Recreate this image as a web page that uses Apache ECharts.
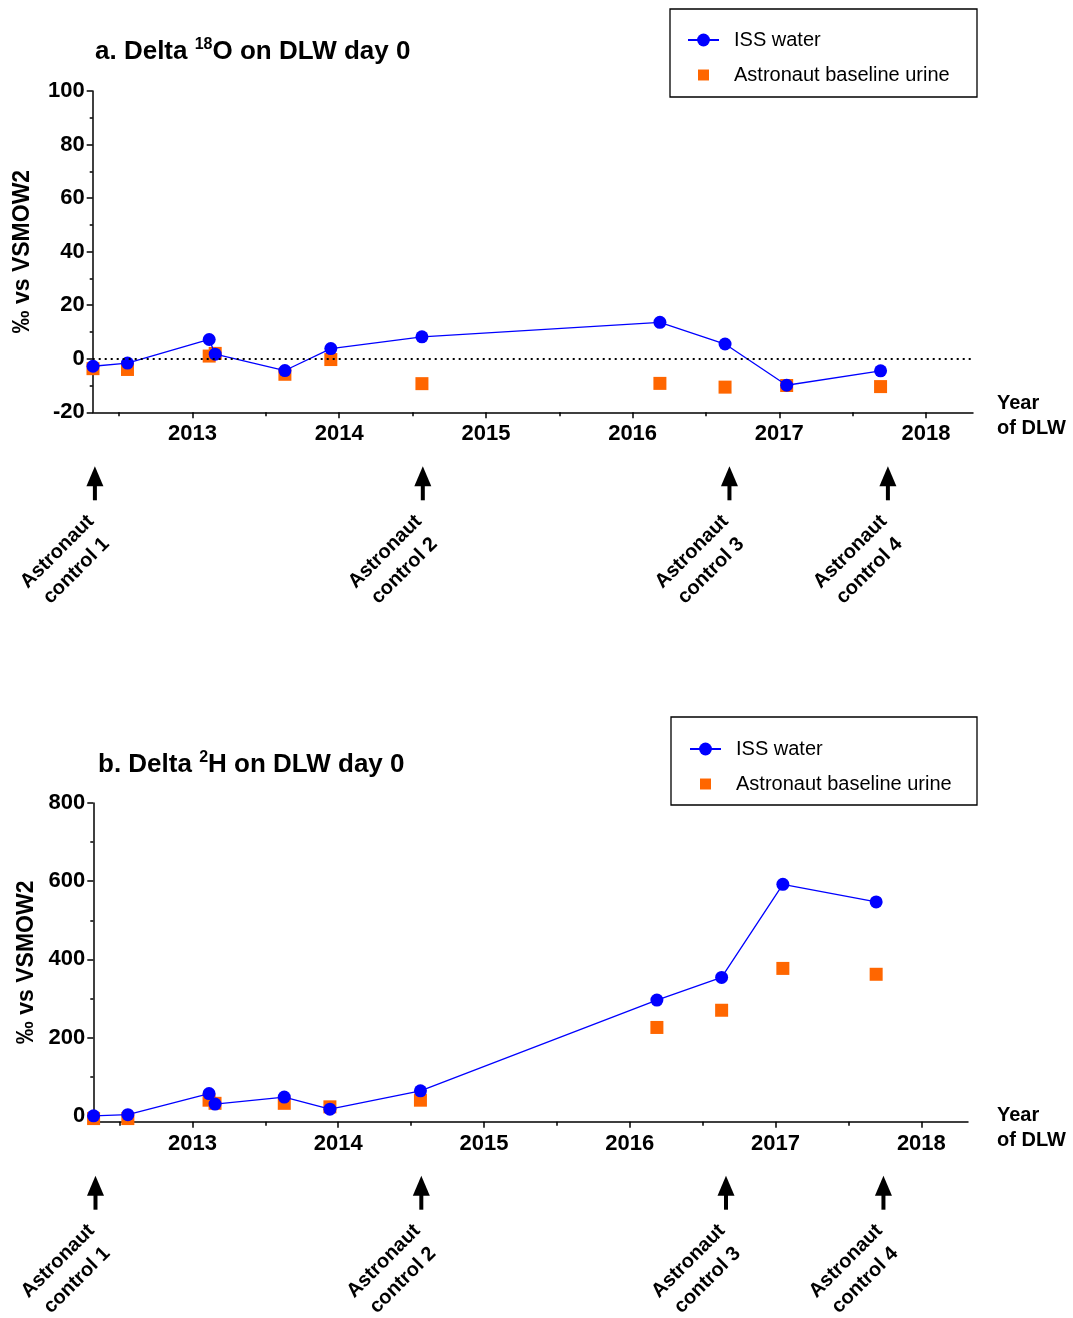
<!DOCTYPE html>
<html><head><meta charset="utf-8">
<script src="https://cdn.jsdelivr.net/npm/echarts@6/dist/echarts.min.js"></script>
<style>html,body{margin:0;padding:0;background:#fff}#c{width:1073px;height:1318px}</style>
</head><body><div id="c"></div>
<script>
// ---- data ----
const sampleDates = [2012.322, 2012.557, 2013.114, 2013.155, 2013.63, 2013.943, 2014.564, 2016.186, 2016.63, 2017.05, 2017.69];
const issO18   = [-2.8, -1.6, 7.2, 1.7, -4.4, 3.8, 8.2, 13.6, 5.5, -9.9, -4.5];
const urineO18 = [-3.7, -4.0, 1.0, 2.0, -5.8, -0.3, -9.3, -9.2, -10.6, -10.0, -10.4];
const issH2    = [0, 3, 57, 30, 48, 17, 64, 296, 354, 592, 547];
const urineH2  = [-7, -7, 40, 32, 32, 23, 40, 226, 270, 377, 362];
const controlYears  = [2012.335, 2014.57, 2016.66, 2017.74];
const controlLabels = ['Astronaut\ncontrol 1', 'Astronaut\ncontrol 2', 'Astronaut\ncontrol 3', 'Astronaut\ncontrol 4'];
const yearTicks     = [2013, 2014, 2015, 2016, 2017, 2018];
const halfYearTicks = [2012.5, 2013.5, 2014.5, 2015.5, 2016.5, 2017.5];
const h2Ticks       = [0, 200, 400, 600, 800];
const h2MinorTicks  = [100, 300, 500, 700];
const seriesNames   = ['ISS water', 'Astronaut baseline urine'];

const FONT = "'Liberation Sans', Arial, Helvetica, sans-serif";
const X_MIN = 2012.32, X_MAX = 2018.32;
const O18_MIN = -20, O18_MAX = 100;
const H2_MIN = -15, H2_MAX = 800;
const BLUE = '#0000ff', ORANGE = '#ff6600';

const pairs = (xs, ys) => xs.map((x, i) => [x, ys[i]]);
const plain = v => String(Math.round(v));

function majorX(grid, gap, spacer) {
  return {
    type: 'value', gridIndex: grid, min: X_MIN, max: X_MAX, position: 'bottom',
    axisLine: { show: true, onZero: false, lineStyle: { color: '#000', width: 1.5 } },
    axisTick: { show: true, customValues: yearTicks, length: 6, lineStyle: { color: '#000', width: 1.5 } },
    axisLabel: { customValues: yearTicks, formatter: plain, fontSize: 22, fontWeight: 'bold', color: '#000', fontFamily: FONT, margin: 11 },
    splitLine: { show: false },
    name: '{sp| }\n{t|Year}\n{t|of DLW}', nameLocation: 'end', nameGap: gap,
    nameTextStyle: { align: 'left', verticalAlign: 'middle',
      rich: {
        sp: { fontSize: 4, lineHeight: spacer },
        t: { fontSize: 20, fontWeight: 'bold', color: '#000', fontFamily: FONT, lineHeight: 25 }
      } }
  };
}
function minorX(grid) {
  return {
    type: 'value', gridIndex: grid, min: X_MIN, max: X_MAX, position: 'bottom', offset: 0,
    axisLine: { show: false, onZero: false },
    axisTick: { show: true, customValues: halfYearTicks, length: 4, lineStyle: { color: '#000', width: 1.5 } },
    axisLabel: { show: false }, splitLine: { show: false }
  };
}
const yName = { fontSize: 23, fontWeight: 'bold', color: '#000', fontFamily: FONT };
const yLabel = { fontSize: 22, fontWeight: 'bold', color: '#000', fontFamily: FONT, margin: 8 };

function arrowSeries(xi, yi, yMin) {
  return {
    type: 'custom', xAxisIndex: xi, yAxisIndex: yi, clip: false, silent: true, z: 5,
    data: controlYears.map((yr, i) => [yr, i]),
    encode: { x: 0 },
    renderItem: function (params, api) {
      const p = api.coord([api.value(0), yMin]);
      const x = p[0], axisY = p[1];
      const tip = axisY + 54, base = tip + 20, bottom = tip + 34;
      const idx = params.dataIndex;
      return {
        type: 'group',
        children: [
          { type: 'polygon', shape: { points: [[x, tip], [x - 8.5, base], [x + 8.5, base]] }, style: { fill: '#000' } },
          { type: 'rect', shape: { x: x - 2, y: base - 1, width: 4, height: bottom - base + 1 }, style: { fill: '#000' } },
          { type: 'text', x: x - 28, y: bottom + 61, rotation: Math.PI / 4,
            style: { text: controlLabels[idx], fontSize: 20, fontWeight: 'bold', fontFamily: FONT, fill: '#000',
                     align: 'center', verticalAlign: 'middle', lineHeight: 27 } }
        ]
      };
    }
  };
}

function urineSeries(xi, yi, vals) {
  return {
    name: seriesNames[1], type: 'scatter', xAxisIndex: xi, yAxisIndex: yi, clip: false,
    symbol: 'rect', symbolSize: 13, itemStyle: { color: ORANGE, opacity: 1 }, z: 2,
    emphasis: { disabled: true },
    data: pairs(sampleDates, vals)
  };
}
function issSeries(xi, yi, vals, extra) {
  return Object.assign({
    name: seriesNames[0], type: 'line', xAxisIndex: xi, yAxisIndex: yi, clip: false,
    symbol: 'circle', symbolSize: 13, showSymbol: true,
    lineStyle: { color: BLUE, width: 1.3 }, itemStyle: { color: BLUE, opacity: 1 }, z: 3,
    emphasis: { disabled: true },
    data: pairs(sampleDates, vals)
  }, extra || {});
}

const SQUARE_ICON = 'path://M0 0M14 14M2.2 2.2H11.8V11.8H2.2Z';
function legendAt(left, top) {
  return {
    orient: 'vertical', left: left, top: top, padding: 0, itemWidth: 31, itemHeight: 16, itemGap: 15,
    selectedMode: false,
    textStyle: { fontSize: 20, color: '#000', fontFamily: FONT, lineHeight: 20, padding: [0, 0, 0, 10] },
    data: [{ name: seriesNames[0] }, { name: seriesNames[1], icon: SQUARE_ICON }]
  };
}

const titleRich = {
  m: { fontSize: 26, fontWeight: 'bold', color: '#000', fontFamily: FONT, lineHeight: 30 },
  s: { fontSize: 16, fontWeight: 'bold', color: '#000', fontFamily: FONT, lineHeight: 12, verticalAlign: 'top' }
};

const option = {
  animation: false,
  backgroundColor: '#fff',
  title: [
    { text: '{m|a. Delta }{s|18}{m|O on DLW day 0}', left: 95, top: 37, padding: 0, textStyle: { rich: titleRich } },
    { text: '{m|b. Delta }{s|2}{m|H on DLW day 0}', left: 98, top: 750, padding: 0, textStyle: { rich: titleRich } }
  ],
  legend: [legendAt(687, 30), legendAt(689, 739)],
  graphic: [
    { type: 'rect', shape: { x: 670, y: 9, width: 307, height: 88 }, style: { fill: 'none', stroke: '#000', lineWidth: 1.3 }, silent: true },
    { type: 'rect', shape: { x: 671, y: 717, width: 306, height: 88 }, style: { fill: 'none', stroke: '#000', lineWidth: 1.3 }, silent: true }
  ],
  grid: [
    { left: 92.7, top: 91, width: 880.3, height: 321.3 },
    { left: 93.3, top: 803, width: 874.7, height: 318.7 }
  ],
  xAxis: [majorX(0, 24, 8), minorX(0), majorX(1, 29, 12), minorX(1)],
  yAxis: [
    { type: 'value', gridIndex: 0, min: O18_MIN, max: O18_MAX, interval: 20, position: 'left',
      axisLine: { show: true, onZero: false, lineStyle: { color: '#000', width: 1.5 } },
      axisTick: { show: true, length: 6, lineStyle: { color: '#000', width: 1.5 } },
      minorTick: { show: true, splitNumber: 2, length: 3, lineStyle: { color: '#000', width: 1.5 } },
      axisLabel: yLabel, splitLine: { show: false }, minorSplitLine: { show: false },
      name: '‰ vs VSMOW2', nameLocation: 'middle', nameGap: 59, nameRotate: 90, nameTextStyle: yName },
    { type: 'value', gridIndex: 1, min: H2_MIN, max: H2_MAX, position: 'left',
      axisLine: { show: true, onZero: false, lineStyle: { color: '#000', width: 1.5 } },
      axisTick: { show: true, customValues: h2Ticks, length: 6, lineStyle: { color: '#000', width: 1.5 } },
      axisLabel: Object.assign({ customValues: h2Ticks }, yLabel), splitLine: { show: false },
      name: '‰ vs VSMOW2', nameLocation: 'middle', nameGap: 48, nameRotate: 90, nameTextStyle: yName },
    { type: 'value', gridIndex: 1, min: H2_MIN, max: H2_MAX, position: 'left', offset: 0,
      axisLine: { show: false, onZero: false },
      axisTick: { show: true, customValues: h2MinorTicks, length: 3, lineStyle: { color: '#000', width: 1.5 } },
      axisLabel: { show: false }, splitLine: { show: false } }
  ],
  series: [
    urineSeries(0, 0, urineO18),
    issSeries(0, 0, issO18, {
      markLine: { silent: true, symbol: 'none', label: { show: false },
        lineStyle: { color: '#000', type: [2, 4], width: 2 }, data: [{ yAxis: 0 }] }
    }),
    arrowSeries(0, 0, O18_MIN),
    urineSeries(2, 1, urineH2),
    issSeries(2, 1, issH2),
    arrowSeries(2, 1, H2_MIN)
  ]
};

const chart = echarts.init(document.getElementById('c'), null, { renderer: 'canvas' });
chart.setOption(option);
</script>
</body></html>
